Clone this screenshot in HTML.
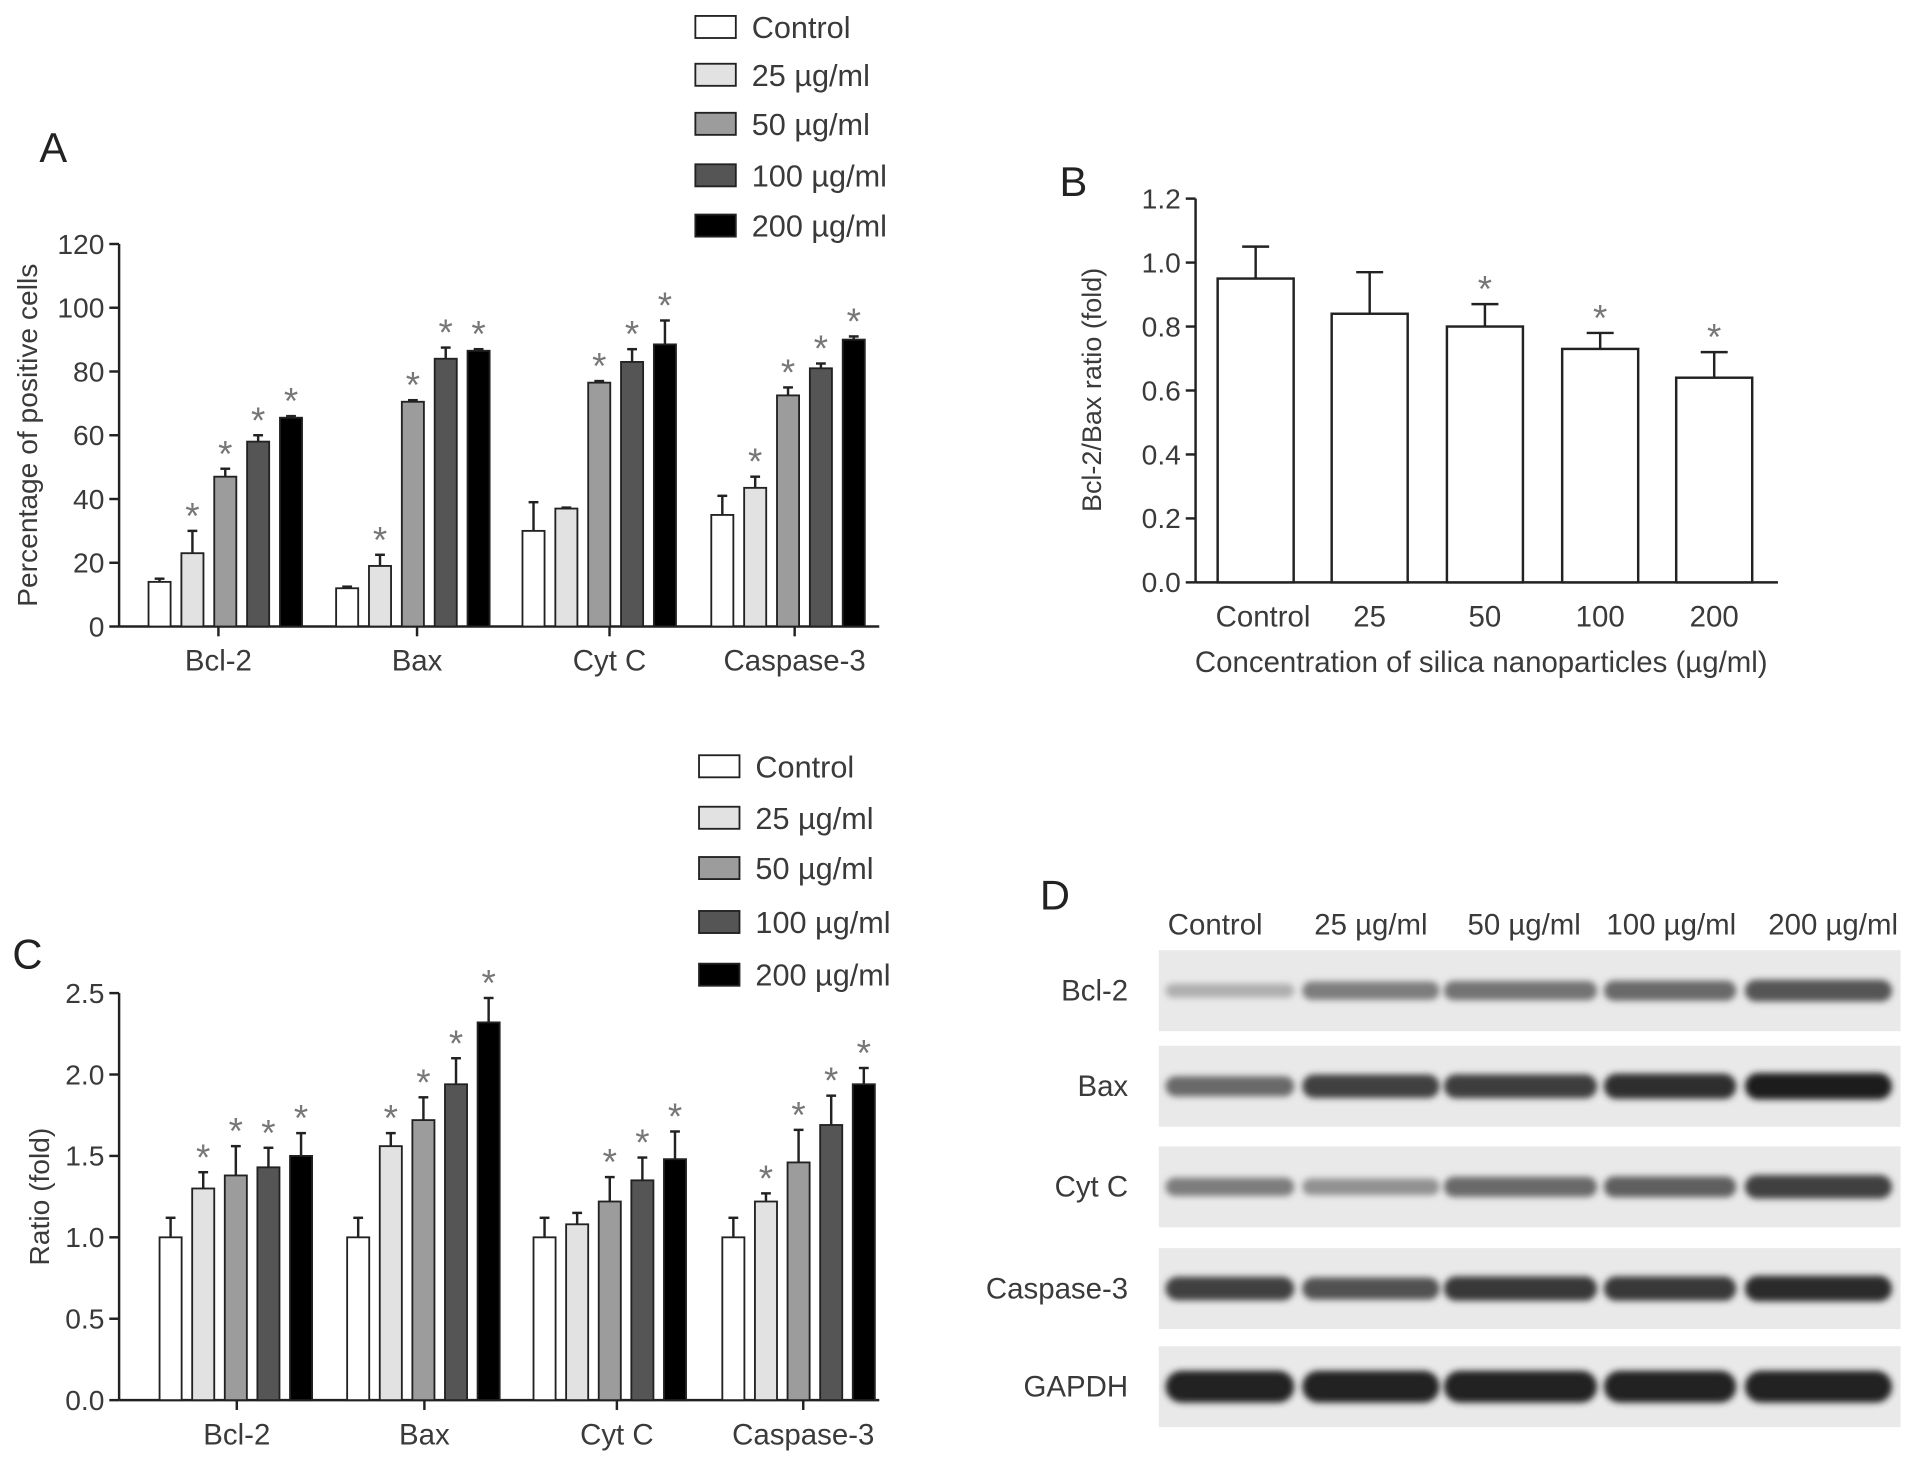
<!DOCTYPE html>
<html><head><meta charset="utf-8"><style>
html,body{margin:0;padding:0;background:#fff;}
svg{display:block;font-family:"Liberation Sans",sans-serif;}
</style></head><body>
<svg id="fig" width="1913" height="1459" viewBox="0 0 1560 1190" xmlns="http://www.w3.org/2000/svg">
<defs><filter id="blur" x="-20%" y="-100%" width="140%" height="300%"><feGaussianBlur stdDeviation="2.5"/></filter></defs>
</svg>
<script>
const categories=["Bcl-2","Bax","Cyt C","Caspase-3"];
const seriesNames=["Control","25 µg/ml","50 µg/ml","100 µg/ml","200 µg/ml"];
const fills=["#ffffff","#e2e2e2","#9c9c9c","#555555","#000000"];
// Panel A values [category][series]
const aVals=[[14,23,47,58,65.5],[12,19,70.5,84,86.5],[30,37,76.5,83,88.5],[35,43.5,72.5,81,90]];
const aErr=[[1,7,2.5,2,0.5],[0.5,3.5,0.5,3.5,0.5],[9,0.3,0.5,4,7.5],[6,3.5,2.5,1.5,1]];
const aStar=[[0,1,1,1,1],[0,1,1,1,1],[0,0,1,1,1],[0,1,1,1,1]];
const aTicks=[0,20,40,60,80,100,120];
// Panel B
const bCats=["Control","25","50","100","200"];
const bVals=[0.95,0.84,0.80,0.73,0.64];
const bErr=[0.10,0.13,0.07,0.05,0.08];
const bStar=[0,0,1,1,1];
const bTicks=[0.0,0.2,0.4,0.6,0.8,1.0,1.2];
// Panel C
const cVals=[[1.0,1.3,1.38,1.43,1.5],[1.0,1.56,1.72,1.94,2.32],[1.0,1.08,1.22,1.35,1.48],[1.0,1.22,1.46,1.69,1.94]];
const cErr=[[0.12,0.1,0.18,0.12,0.14],[0.12,0.08,0.14,0.16,0.15],[0.12,0.07,0.15,0.14,0.17],[0.12,0.05,0.2,0.18,0.1]];
const cStar=[[0,1,1,1,1],[0,1,1,1,1],[0,0,1,1,1],[0,1,1,1,1]];
const cTicks=[0.0,0.5,1.0,1.5,2.0,2.5];
// Panel D band intensities (0-1) [protein][lane]
const dProteins=["Bcl-2","Bax","Cyt C","Caspase-3","GAPDH"];
const dLanes=["Control","25 µg/ml","50 µg/ml","100 µg/ml","200 µg/ml"];
const dInt=[[0.25,0.5,0.55,0.6,0.7],[0.6,0.8,0.82,0.9,0.97],[0.5,0.4,0.6,0.65,0.8],[0.8,0.72,0.85,0.85,0.92],[0.95,0.95,0.96,0.95,0.95]];

const NS="http://www.w3.org/2000/svg";
const svg=document.getElementById('fig');
function mk(tag,attrs,parent){const e=document.createElementNS(NS,tag);for(const k in attrs)e.setAttribute(k,attrs[k]);(parent||svg).appendChild(e);return e;}
function txt(x,y,s,size,anchor,parent,extra){const t=mk('text',Object.assign({x:x,y:y,'font-size':size,'text-anchor':anchor||'start',fill:'#3a3a3a'},extra||{}),parent);t.textContent=s;return t;}

function groupedChart(o){
  const g=mk('g',{});
  
  
  const y=v=>o.y0-(v-o.vmin)/(o.vmax-o.vmin)*(o.y0-o.y1);
  mk('line',{x1:o.ax,y1:o.y0,x2:o.ax,y2:o.y1,stroke:'#222','stroke-width':2},g);
  mk('line',{x1:o.ax,y1:o.y0,x2:o.xEnd,y2:o.y0,stroke:'#222','stroke-width':2},g);
  o.ticks.forEach(t=>{
    mk('line',{x1:o.ax-8,y1:y(t),x2:o.ax,y2:y(t),stroke:'#222','stroke-width':2},g);
    const l=txt(o.ax-12,y(t)+8,o.fmt(t),23,'end',g);
    
    
  });
  const title=txt(0,0,o.ytitle,23,'middle',g,{transform:`translate(${o.titleX},${(o.y0+o.y1)/2}) rotate(-90)`});
  
  
  categories.forEach((c,ci)=>{
    const gx=o.groupX[ci];
    mk('line',{x1:gx,y1:o.y0,x2:gx,y2:o.y0+8,stroke:'#222','stroke-width':2},g);
    const l=txt(gx,o.y0+36,c,24,'middle',g);
    
    
    o.vals[ci].forEach((v,si)=>{
      const cx=o.first[ci]+si*o.step;
      const top=y(v),etop=y(v+o.err[ci][si]);
      const b=mk('rect',{x:cx-o.bw/2,y:top,width:o.bw,height:o.y0-top,fill:fills[si],stroke:'#222','stroke-width':1.5},g);
      
      
      mk('line',{x1:cx,y1:top,x2:cx,y2:etop,stroke:'#222','stroke-width':2},g);
      mk('line',{x1:cx-4,y1:etop,x2:cx+4,y2:etop,stroke:'#222','stroke-width':2},g);
      if(o.star[ci][si]){const s=txt(cx,etop-2,'*',30,'middle',g,{fill:'#777'});}
    });
  });
  const lg=mk('g',{},g);
  
  
  seriesNames.forEach((s,i)=>{
    const ry=o.legY[i];
    mk('rect',{x:o.legX,y:ry-9,width:33,height:18,fill:fills[i],stroke:'#222','stroke-width':1.5},lg);
    const t=txt(o.legX+46,ry+9,s,25,'start',lg);
    
    
  });
  const L=txt(o.letter[0],o.letter[1],o.letterS,34,'start',g,{fill:'#222'});
  
  
}

groupedChart({name:'panel-a-chart',ax:97,y0:511,y1:199,vmin:0,vmax:120,xEnd:717,ticks:aTicks,fmt:t=>String(t),
  ytitle:'Percentage of positive cells',titleX:30,groupX:[178,340,497,648],first:[130,283,435,589],step:26.8,bw:18,
  vals:aVals,err:aErr,star:aStar,legX:567,legY:[22,61,101,143,184],letter:[32,132],letterS:'A'});
groupedChart({name:'panel-c-chart',ax:97,y0:1142,y1:810,vmin:0,vmax:2.5,xEnd:717,ticks:cTicks,fmt:t=>t.toFixed(1),
  ytitle:'Ratio (fold)',titleX:40,groupX:[193,346,503,655],first:[139,292,444,598],step:26.6,bw:18,
  vals:cVals,err:cErr,star:cStar,legX:570,legY:[625,667,708,752,795],letter:[10,790],letterS:'C'});

(function(){
  const g=mk('g',{});
  
  
  const y0=475,y1=162,ax=975;
  const y=v=>y0-v/1.2*(y0-y1);
  const xs=[1024,1117,1211,1305,1398];
  mk('line',{x1:ax,y1:y0,x2:ax,y2:y1,stroke:'#222','stroke-width':2},g);
  mk('line',{x1:ax,y1:y0,x2:1450,y2:y0,stroke:'#222','stroke-width':2},g);
  bTicks.forEach(t=>{mk('line',{x1:ax-8,y1:y(t),x2:ax,y2:y(t),stroke:'#222','stroke-width':2},g);
    const l=txt(ax-12,y(t)+8,t.toFixed(1),23,'end',g);});
  bVals.forEach((v,i)=>{
    const cx=xs[i],top=y(v),et=y(v+bErr[i]);
    const b=mk('rect',{x:cx-31,y:top,width:62,height:y0-top,fill:'#fff',stroke:'#222','stroke-width':2},g);
    
    
    mk('line',{x1:cx,y1:top,x2:cx,y2:et,stroke:'#222','stroke-width':2},g);
    mk('line',{x1:cx-11,y1:et,x2:cx+11,y2:et,stroke:'#222','stroke-width':2},g);
    if(bStar[i]){const s=txt(cx,et-2,'*',30,'middle',g,{fill:'#777'});}
    const l=txt(i==0?cx+6:cx,y0+36,bCats[i],24,'middle',g);
  });
  const xt=txt(1208,548,'Concentration of silica nanoparticles (µg/ml)',24,'middle',g);
  
  const yt=txt(0,0,'Bcl-2/Bax ratio (fold)',22,'middle',g,{transform:'translate(898,318) rotate(-90)'});
  
  const L=txt(864,160,'B',34,'start',g,{fill:'#222'});
})();

(function(){
  const g=mk('g',{});
  
  
  const L=txt(848,742,'D',34,'start',g,{fill:'#222'});
  const laneX=[1003,1118,1240,1362,1483];
  const laneW=[105,112,125,108,120];
  dLanes.forEach((s,i)=>{const t=txt([991,1118,1243,1363,1495][i],762,s,24,'middle',g);});
  const tops=[775,853,935,1018,1098];
  dProteins.forEach((p,pi)=>{
    const ty=tops[pi];
    const strip=mk('rect',{x:945,y:ty,width:605,height:66,fill:'#e9e9e9'},g);
    
    
    const l=txt(920,ty+41,p,24,'end',g);
    dInt[pi].forEach((v,li)=>{
      const c=Math.round(225-v*200);
      const h=pi==4?26:(8+v*14);
      const band=mk('rect',{x:laneX[li]-laneW[li]/2,y:ty+33-h/2,width:laneW[li],height:h,rx:h/2,fill:`rgb(${c},${c},${c})`,filter:'url(#blur)'},g);
      
      
    });
  });
})();
</script>
</body></html>
